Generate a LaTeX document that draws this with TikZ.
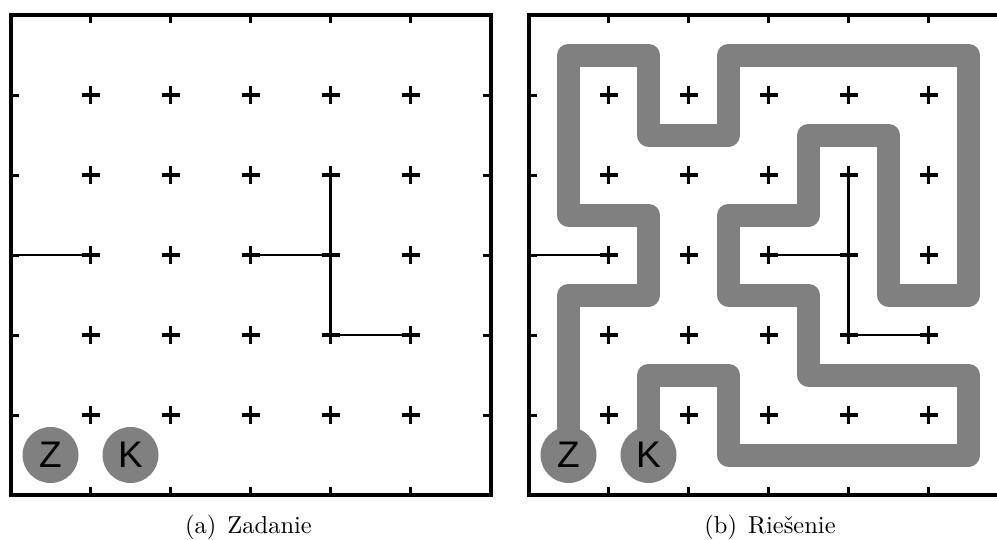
\documentclass[tikz,border=0pt]{standalone}
\usepackage{fontspec}
\newfontfamily\zkfont{Liberation Sans}
\newfontfamily\capfont{lmroman10-regular.otf}
\begin{document}
\begin{tikzpicture}[x=1pt,y=-1pt,
  frame/.style={line width=4pt},
  tick/.style={line width=3pt},
  crossmark/.style={line width=3.2pt},
  wall/.style={line width=2.6pt},
  route/.style={line width=23pt,draw=gray,line join=round},
  endpt/.style={circle,fill=gray,minimum size=56pt,inner sep=0pt,font=\zkfont\fontsize{37}{40}\selectfont},
  captext/.style={anchor=base,inner sep=0pt,font=\capfont\fontsize{24.5}{29}\selectfont}]
\useasboundingbox (0,0) rectangle (997,539);
\clip (0,0) rectangle (997,539);
\newcommand\boardbase{%
  \draw[frame] (0,0) rectangle (480,480);
  \foreach \k in {1,...,5}{
    \draw[tick] (80*\k,0) -- (80*\k,8);
    \draw[tick] (80*\k,480) -- (80*\k,472);
    \draw[tick] (0,80*\k) -- (8,80*\k);
    \draw[tick] (480,80*\k) -- (472,80*\k);
  }
  \foreach \i in {1,...,5}{\foreach \j in {1,...,5}{
    \draw[crossmark] (80*\i-9,80*\j) -- (80*\i+9,80*\j);
    \draw[crossmark] (80*\i,80*\j-9) -- (80*\i,80*\j+9);
  }}
  \draw[wall] (0,240) -- (80,240);
  \draw[wall] (240,240) -- (320,240);
  \draw[wall] (320,160) -- (320,320) -- (400,320);
}
% left board
\begin{scope}[shift={(10.5,15)}]
  \boardbase
  \node[endpt] (zl) at (40,440) {Z};
  \node[endpt] (kl) at (120,440) {K};
\end{scope}
% right board
\begin{scope}[shift={(528.5,15)}]
  \coordinate (zc) at (40,440);
  \coordinate (kc) at (120,440);
  \draw[route] (zc) -- (40,280) -- (120,280) -- (120,200) -- (40,200) -- (40,40)
    -- (120,40) -- (120,120) -- (200,120) -- (200,40) -- (440,40) -- (440,280)
    -- (360,280) -- (360,120) -- (280,120) -- (280,200) -- (200,200) -- (200,280)
    -- (280,280) -- (280,360) -- (440,360) -- (440,440) -- (200,440) -- (200,360)
    -- (120,360) -- (kc);
  \boardbase
  \node[endpt] (zr) at (zc) {Z};
  \node[endpt] (kr) at (kc) {K};
\end{scope}
\node[captext] (capa) at (248.5,533) {(a)\hspace{0.45em}Zadanie};
\node[captext] (capb) at (770,533) {(b)\hspace{0.45em}Riešenie};
\end{tikzpicture}
\end{document}
